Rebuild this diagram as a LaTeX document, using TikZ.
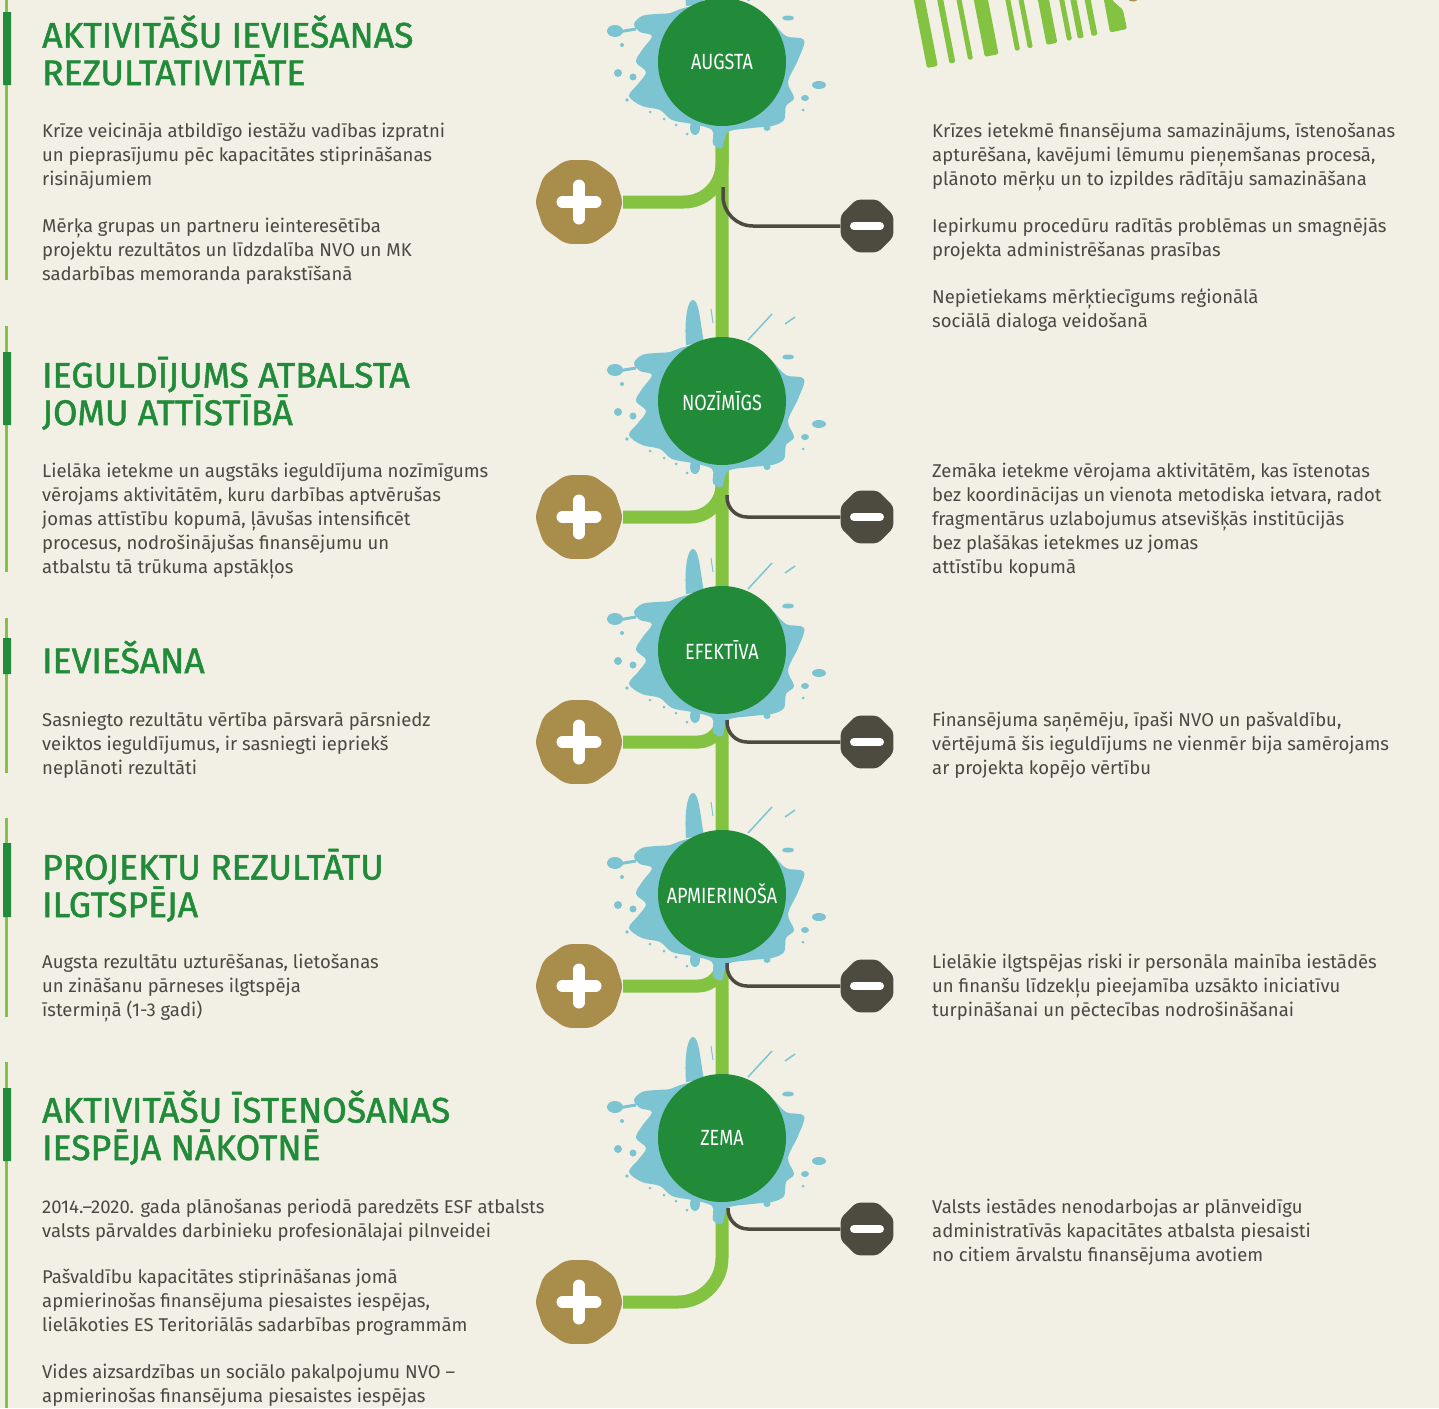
\documentclass[tikz,border=0pt]{standalone}
\usepackage{fontspec}
\setmainfont{Fira Sans}
\newfontfamily\headfont{Fira Sans}[FakeBold=1.4]
\usepackage{graphicx}
\usetikzlibrary{shapes.geometric}
\definecolor{bgcream}{HTML}{F2F0E4}
\definecolor{lvgreen}{HTML}{228B3A}
\definecolor{stemgreen}{HTML}{84C341}
\definecolor{splashblue}{HTML}{7CC4D1}
\definecolor{plustan}{HTML}{A88D4B}
\definecolor{minusdark}{HTML}{4D4A3F}
\definecolor{bodygray}{HTML}{4A4842}
\newcommand{\narrow}[1]{\scalebox{0.82}[1]{#1}}
\pgfdeclarelayer{bg}
\pgfdeclarelayer{back}
\pgfdeclarelayer{ink}
\pgfsetlayers{bg,back,ink,main}

\begin{document}
\begin{tikzpicture}
      [x=1pt,y=-1pt,
        level/.style={circle,fill=lvgreen,minimum size=128,inner sep=0,text=white,font=\fontsize{22}{22}\selectfont},
        plusnode/.style={regular polygon,regular polygon sides=10,fill=plustan,minimum size=88,inner sep=0,rounded corners=6,
          path picture={\draw[white,line width=12,line cap=round] (path picture bounding box.center) ++(-16.5,0) -- ++(33,0)
            (path picture bounding box.center) ++(0,-16.5) -- ++(0,33);}},
        minusnode/.style={regular polygon,regular polygon sides=8,fill=minusdark,minimum size=57,inner sep=0,rounded corners=4,
          path picture={\draw[white,line width=8,line cap=round] (path picture bounding box.center) ++(-13,0) -- ++(26,0);}},
        trunk/.style={draw=stemgreen,line width=13},
        twig/.style={draw=minusdark,line width=3.5},
        head/.style={anchor=base west,inner sep=0,text=lvgreen,align=left,font=\headfont\fontsize{35.5}{37.5}\selectfont},
        body/.style={anchor=base west,inner sep=0,text=bodygray,align=left,font=\fontsize{18.5}{24}\selectfont},
        splash/.pic={
          \fill[splashblue] plot[smooth cycle,tension=0.55] coordinates {(-38,-54) (-52,-49) (-66,-48) (-80,-46) (-88,-38)
            (-82,-30) (-70,-26) (-80,-12) (-86,0) (-76,10) (-84,22) (-93,34) (-80,44) (-62,48) (-50,58) (-30,62) (-10,68)
            (-9,82) (0,86) (6,70) (30,66) (50,64) (62,58) (64,44) (72,36) (66,20) (76,-2) (82,-22) (64,-26) (50,-40) (32,-54) (0,-62)};
          \fill[splashblue] (-36,-56) .. controls (-38,-84) and (-34,-101) .. (-29,-101) .. controls (-23,-101) and (-22,-80) .. (-18,-58) -- cycle;
          \fill[splashblue] (-107,-31) ellipse [x radius=8,y radius=6];
          \draw[splashblue,line width=3] (-104,-30) -- (-86,-33);
          \fill[splashblue] (-27,66) ellipse [x radius=5,y radius=7];
          \fill[splashblue] (-104,11) circle [radius=4] (-89,15) circle [radius=3.5] (-100,-17) circle [radius=2]
            (-95,38) circle [radius=1.8] (81,48) circle [radius=1.5] (-72,50) circle [radius=1.5] (-58,57) circle [radius=1.5]
            (-46,63) circle [radius=1.5] (-35,72) circle [radius=1.5];
          \fill[splashblue] (97,23) ellipse [x radius=7,y radius=4] (83,36) ellipse [x radius=4,y radius=3]
            (45,66) ellipse [x radius=3.5,y radius=3] (66,-44) ellipse [x radius=6,y radius=2.5];
          \draw[splashblue,line width=1.5] (26,-61) -- (50,-87) (63,-77) -- (73,-84);
          \draw[splashblue,line width=1] (-11,-92) -- (-9,-78);
        }]
      \useasboundingbox (0,0) rectangle (1439,1408);
      \begin{pgfonlayer}{bg}
        \fill[bgcream] (0,0) rectangle (1439,1408);
        \draw[stemgreen,line width=3] (6.5,0) -- (6.5,280) (6.5,326) -- (6.5,572) (6.5,618) -- (6.5,773)
          (6.5,818) -- (6.5,1017) (6.5,1062) -- (6.5,1408);
        \fill[lvgreen] (3,12) rectangle (11,85) (3,352) rectangle (11,425) (3,638) rectangle (11,674)
          (3,843) rectangle (11,917) (3,1088) rectangle (11,1161);
        \foreach \u/\w in {0/11,23/6,42/5,59/14,90/5,103/5,122/11,143/5,154/6,168/6}
          \fill[stemgreen,rounded corners=1.5] ({927+0.98*\u},{68-0.19*\u}) -- ({927+0.98*(\u+\w)},{68-0.19*(\u+\w)})
            -- ++(-19,-98) -- ({908+0.98*\u},{-30-0.19*\u}) -- cycle;
        \fill[stemgreen,rounded corners=1.5] (1110,32.5) -- (1127,29) -- (1123,10) -- (1112,0) -- (1112,-5) -- (1103,-5) -- cycle;
        \fill[plustan] (1133,-6) circle [radius=7.5];
      \end{pgfonlayer}

      \node[level] (lvl1) at (722,62) {\narrow{AUGSTA}};
      \node[level] (lvl2) at (722,401) {\narrow{NOZĪMĪGS}};
      \node[level] (lvl3) at (722,650) {\narrow{EFEKTĪVA}};
      \node[level] (lvl4) at (722,894) {\narrow{APMIERINOŠA}};
      \node[level] (lvl5) at (722,1138) {\narrow{ZEMA}};

      \node[plusnode] (plus1) at (579,202) {};
      \node[plusnode] (plus2) at (579,517) {};
      \node[plusnode] (plus3) at (579,742) {};
      \node[plusnode] (plus4) at (579,986) {};
      \node[plusnode] (plus5) at (579,1302) {};

      \node[minusnode] (minus1) at (867,226) {};
      \node[minusnode] (minus2) at (867,517) {};
      \node[minusnode] (minus3) at (867,742) {};
      \node[minusnode] (minus4) at (867,986) {};
      \node[minusnode] (minus5) at (867,1229) {};

      \begin{pgfonlayer}{back}
        \draw[trunk,rounded corners=44] (lvl1) |- (plus5);
        \draw[trunk,rounded corners=38] (lvl1) |- (plus1);
        \draw[trunk,rounded corners=32] (lvl2) |- (plus2);
        \draw[trunk,rounded corners=24] (lvl3) |- (plus3);
        \draw[trunk,rounded corners=24] (lvl4) |- (plus4);
      \end{pgfonlayer}
      \begin{pgfonlayer}{ink}
        \pic at (lvl1) {splash};
        \pic at (lvl2) {splash};
        \pic at (lvl3) {splash};
        \pic at (lvl4) {splash};
        \pic at (lvl5) {splash};
      \end{pgfonlayer}

      \coordinate (knot1) at (723,187);
      \coordinate (knot2) at (727,495);
      \coordinate (knot3) at (727,720);
      \coordinate (knot4) at (727,963);
      \coordinate (knot5) at (728,1208);
      \draw[twig,rounded corners=30] (knot1) |- (minus1);
      \draw[twig,rounded corners=20] (knot2) |- (minus2);
      \draw[twig,rounded corners=20] (knot3) |- (minus3);
      \draw[twig,rounded corners=20] (knot4) |- (minus4);
      \draw[twig,rounded corners=20] (knot5) |- (minus5);

      \node[head] (head1) at (42,85) {AKTIVITĀŠU IEVIEŠANAS\\REZULTATIVITĀTE};
      \node[body] (pro1) at (42,280) {Krīze veicināja atbildīgo iestāžu vadības izpratni\\
        un pieprasījumu pēc kapacitātes stiprināšanas\\risinājumiem\\[23pt]
        Mērķa grupas un partneru ieinteresētība\\projektu rezultātos un līdzdalība NVO un MK\\
        sadarbības memoranda parakstīšanā};
      \node[body] (con1) at (932,327) {Krīzes ietekmē finansējuma samazinājums, īstenošanas\\
        apturēšana, kavējumi lēmumu pieņemšanas procesā,\\plānoto mērķu un to izpildes rādītāju samazināšana\\[23pt]
        Iepirkumu procedūru radītās problēmas un smagnējās\\projekta administrēšanas prasības\\[23pt]
        Nepietiekams mērķtiecīgums reģionālā\\sociālā dialoga veidošanā};

      \node[head] (head2) at (42,425) {IEGULDĪJUMS ATBALSTA\\JOMU ATTĪSTĪBĀ};
      \node[body] (pro2) at (42,573) {Lielāka ietekme un augstāks ieguldījuma nozīmīgums\\
        vērojams aktivitātēm, kuru darbības aptvērušas\\jomas attīstību kopumā, ļāvušas intensificēt\\
        procesus, nodrošinājušas finansējumu un\\atbalstu tā trūkuma apstākļos};
      \node[body] (con2) at (932,573) {Zemāka ietekme vērojama aktivitātēm, kas īstenotas\\
        bez koordinācijas un vienota metodiska ietvara, radot\\fragmentārus uzlabojumus atsevišķās institūcijās\\
        bez plašākas ietekmes uz jomas\\attīstību kopumā};

      \node[head] (head3) at (42,673) {IEVIEŠANA};
      \node[body] (pro3) at (42,774) {Sasniegto rezultātu vērtība pārsvarā pārsniedz\\
        veiktos ieguldījumus, ir sasniegti iepriekš\\neplānoti rezultāti};
      \node[body] (con3) at (932,774) {Finansējuma saņēmēju, īpaši NVO un pašvaldību,\\
        vērtējumā šis ieguldījums ne vienmēr bija samērojams\\ar projekta kopējo vērtību};

      \node[head] (head4) at (42,917) {PROJEKTU REZULTĀTU\\ILGTSPĒJA};
      \node[body] (pro4) at (42,1016) {Augsta rezultātu uzturēšanas, lietošanas\\
        un zināšanu pārneses ilgtspēja\\īstermiņā (1-3 gadi)};
      \node[body] (con4) at (932,1016) {Lielākie ilgtspējas riski ir personāla mainība iestādēs\\
        un finanšu līdzekļu pieejamība uzsākto iniciatīvu\\turpināšanai un pēctecības nodrošināšanai};

      \node[head] (head5) at (42,1160) {AKTIVITĀŠU ĪSTENOŠANAS\\IESPĒJA NĀKOTNĒ};
      \node[body] (pro5) at (42,1402) {2014.–2020. gada plānošanas periodā paredzēts ESF atbalsts\\
        valsts pārvaldes darbinieku profesionālajai pilnveidei\\[22pt]
        Pašvaldību kapacitātes stiprināšanas jomā\\apmierinošas finansējuma piesaistes iespējas,\\
        lielākoties ES Teritoriālās sadarbības programmām\\[23pt]
        Vides aizsardzības un sociālo pakalpojumu NVO –\\apmierinošas finansējuma piesaistes iespējas};
      \node[body] (con5) at (932,1261) {Valsts iestādes nenodarbojas ar plānveidīgu\\
        administratīvās kapacitātes atbalsta piesaisti\\no citiem ārvalstu finansējuma avotiem};
    \end{tikzpicture}
\end{document}
